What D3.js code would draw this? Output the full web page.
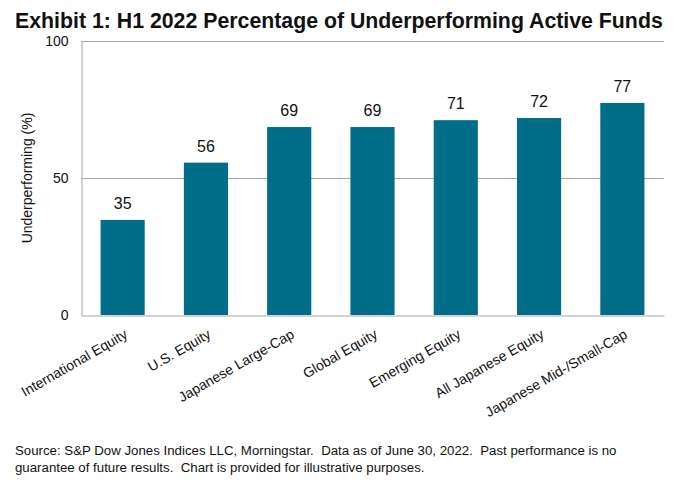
<!DOCTYPE html>
<html><head><meta charset="utf-8">
<script src="https://cdn.jsdelivr.net/npm/d3@7"></script>
<style>body{margin:0;background:#fff}svg{display:block;font-family:"Liberation Sans",Arial,sans-serif}</style>
</head><body>
<svg id="c" width="673" height="481"></svg>
<script>
const categories = ["International Equity","U.S. Equity","Japanese Large-Cap","Global Equity","Emerging Equity","All Japanese Equity","Japanese Mid-/Small-Cap"];
const values = [34.7, 55.6, 68.6, 68.6, 71.1, 71.9, 77.4];
const yTicks = [0, 50, 100];
const title = "Exhibit 1: H1 2022 Percentage of Underperforming Active Funds";
const yTitle = "Underperforming (%)";
const footer = ["Source: S&P Dow Jones Indices LLC, Morningstar.  Data as of June 30, 2022.  Past performance is no",
                "guarantee of future results.  Chart is provided for illustrative purposes."];

const svg = d3.select("#c");
const m = {left:81, right:664, top:41, bottom:315};
const x = d3.scaleBand().domain(categories).range([m.left, m.right]).paddingInner(0.47).paddingOuter(0.235);
const y = d3.scaleLinear().domain([0,100]).range([m.bottom, m.top]);
const grid = "#a6a6a6";

svg.append("text").attr("x",15).attr("y",28).attr("font-size","21.3px").attr("font-weight","bold").attr("fill","#111").text(title);

// gridlines
svg.append("g").selectAll("line").data(yTicks.filter(d=>d>0)).join("line")
  .attr("x1",m.left).attr("x2",m.right).attr("y1",d=>y(d)+0.5).attr("y2",d=>y(d)+0.5)
  .attr("stroke",grid).attr("stroke-width",1);

// y axis
const ya = svg.append("g").attr("transform",`translate(${m.left+0.5},0)`)
  .call(d3.axisLeft(y).tickValues(yTicks).tickSize(0).tickPadding(13));
ya.select(".domain").attr("stroke",grid);
ya.selectAll("text").attr("font-size","14px").attr("fill","#111").attr("font-family","Liberation Sans, Arial, sans-serif");

// bars
svg.append("g").selectAll("rect").data(categories).join("rect")
  .attr("x",d=>x(d)).attr("width",x.bandwidth())
  .attr("y",(d,i)=>y(values[i])).attr("height",(d,i)=>y(0)-y(values[i]))
  .attr("fill","#006e89");

// x axis
const xa = svg.append("g").attr("transform",`translate(0,${m.bottom+0.5})`)
  .call(d3.axisBottom(x).tickSize(0).tickFormat(""));
xa.select(".domain").attr("stroke",grid);
svg.append("g").selectAll("text").data(categories).join("text")
  .attr("transform",d=>`translate(${x(d)+x.bandwidth()/2+6},${m.bottom+22}) rotate(-30)`)
  .attr("text-anchor","end").attr("font-size","14px").attr("fill","#111").text(d=>d);

// data labels
svg.append("g").selectAll("text").data(categories).join("text")
  .attr("x",d=>x(d)+x.bandwidth()/2).attr("y",(d,i)=>y(values[i])-11)
  .attr("text-anchor","middle").attr("font-size","16px").attr("fill","#111")
  .text((d,i)=>d3.format(".0f")(values[i]));

// y title
svg.append("text").attr("transform",`translate(32,${(m.top+m.bottom)/2}) rotate(-90)`)
  .attr("text-anchor","middle").attr("font-size","14px").attr("fill","#111").text(yTitle);

// footer
svg.append("g").selectAll("text").data(footer).join("text")
  .attr("x",15).attr("y",(d,i)=>455+i*16.5).attr("font-size","13.25px").attr("fill","#111")
  .attr("xml:space","preserve").style("white-space","pre").text(d=>d);
</script>
</body></html>
